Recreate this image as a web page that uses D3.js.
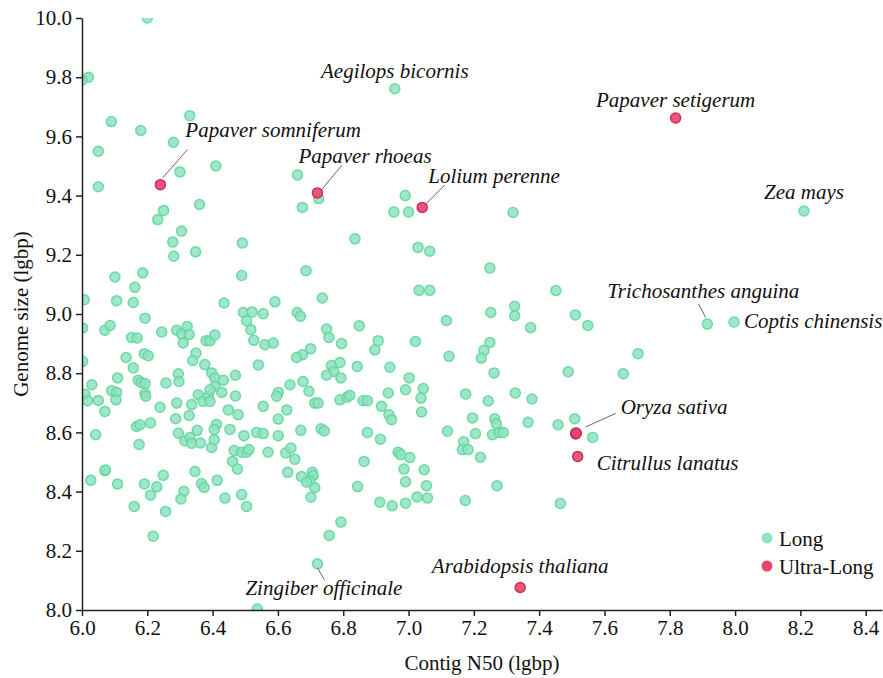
<!DOCTYPE html>
<html>
<head>
<meta charset="utf-8">
<script src="https://cdn.jsdelivr.net/npm/d3@7"></script>
<style>
  body { margin: 0; background: #fff; }
  svg text { font-family: "Times New Roman", "Liberation Serif", Tinos, "DejaVu Serif", "Noto Serif", Times, serif !important; }
</style>
</head>
<body>
<div id="chart"></div>
<script>
// axis ticks
const xTicks = [6.0, 6.2, 6.4, 6.6, 6.8, 7.0, 7.2, 7.4, 7.6, 7.8, 8.0, 8.2, 8.4];
const yTicks = [8.0, 8.2, 8.4, 8.6, 8.8, 9.0, 9.2, 9.4, 9.6, 9.8, 10.0];

// [contig N50, genome size] in lgbp
const longPoints = [
  [6.20,10.00],[6.02,9.80],[6.00,9.79],[6.33,9.67],[6.09,9.65],[6.18,9.62],[6.28,9.58],[6.05,9.55],
  [6.41,9.50],[6.30,9.48],[6.05,9.43],[6.36,9.37],[6.25,9.35],
  [6.958,9.761],[6.66,9.47],[6.725,9.39],[6.675,9.36],[6.955,9.345],[7.00,9.345],[6.99,9.40],[7.32,9.343],
  [6.232,9.319],[6.305,9.280],[6.278,9.243],[6.348,9.210],[6.281,9.195],[6.491,9.240],[6.101,9.125],
  [6.186,9.139],[6.162,9.090],[6.489,9.130],[6.007,9.048],[6.106,9.045],[6.157,9.039],[6.435,9.037],
  [6.494,9.005],[6.193,8.986],[6.002,8.953],[6.070,8.945],[6.086,8.961],[6.152,8.921],[6.169,8.919],
  [6.244,8.939],[6.290,8.945],[6.305,8.933],[6.322,8.958],[6.328,8.931],[6.310,8.902],[6.380,8.910],
  [6.392,8.910],[6.407,8.929],[6.002,8.840],[6.135,8.853],[6.191,8.866],[6.203,8.859],[6.157,8.818],
  [6.349,8.868],[6.339,8.843],[6.376,8.829],[6.470,8.793],[6.030,8.761],[6.109,8.784],[6.172,8.776],
  [6.181,8.769],[6.193,8.765],[6.257,8.767],[6.295,8.798],[6.297,8.772],[6.397,8.801],[6.407,8.784],
  [6.433,8.776],[6.407,8.756],[6.009,8.729],[6.017,8.707],[6.050,8.708],[6.091,8.741],[6.106,8.735],
  [6.104,8.710],[6.193,8.731],[6.195,8.722],[6.239,8.685],[6.290,8.699],[6.336,8.694],[6.356,8.727],
  [6.371,8.705],[6.387,8.722],[6.392,8.744],[6.392,8.705],[6.428,8.735],[6.448,8.676],[6.470,8.723],
  [6.070,8.671],
  [6.836,9.254],[6.686,9.146],[6.591,9.041],[6.736,9.054],[6.521,9.007],[6.555,9.001],[6.504,8.977],
  [6.659,9.005],[6.669,8.992],[6.517,8.947],[6.526,8.911],[6.560,8.896],[6.586,8.902],[6.749,8.949],
  [6.756,8.921],[6.849,8.960],[6.795,8.900],[6.907,8.910],[6.897,8.879],[6.700,8.883],[6.675,8.862],
  [6.657,8.853],[6.540,8.828],[6.764,8.826],[6.790,8.836],[6.771,8.806],[6.749,8.793],[6.793,8.784],
  [6.843,8.823],[6.943,8.820],[6.637,8.761],[6.677,8.772],[6.695,8.739],[6.601,8.735],[6.596,8.722],
  [6.555,8.688],[6.627,8.676],[6.713,8.699],[6.723,8.699],[6.790,8.710],[6.812,8.719],[6.820,8.725],
  [6.861,8.707],[6.874,8.707],[6.917,8.688],[6.938,8.733],[6.940,8.660],
  [7.029,9.225],[7.065,9.212],[7.249,9.155],[7.032,9.080],[7.065,9.080],[7.451,9.079],[7.116,8.978],
  [7.252,9.005],[7.325,9.026],[7.325,8.994],[7.374,8.954],[7.021,8.907],[7.249,8.904],[7.231,8.877],
  [7.223,8.851],[7.124,8.857],[7.262,8.801],[7.002,8.784],[6.991,8.744],[7.045,8.748],[7.038,8.716],
  [7.175,8.730],[7.244,8.706],[7.327,8.733],[7.378,8.713],[7.040,8.669],
  [6.042,8.592],[6.167,8.620],[6.178,8.626],[6.210,8.632],[6.175,8.559],[6.287,8.646],[6.328,8.657],
  [6.295,8.597],[6.315,8.572],[6.331,8.583],[6.336,8.563],[6.353,8.607],[6.363,8.564],[6.397,8.549],
  [6.405,8.575],[6.412,8.627],[6.405,8.610],[6.453,8.610],[6.466,8.539],[6.461,8.502],[6.476,8.476],
  [6.489,8.390],[6.070,8.471],[6.072,8.473],[6.027,8.438],[6.109,8.426],[6.191,8.426],[6.249,8.455],
  [6.229,8.416],[6.210,8.388],[6.160,8.350],[6.256,8.333],[6.218,8.249],[6.346,8.468],[6.312,8.401],
  [6.303,8.375],[6.366,8.427],[6.374,8.414],[6.414,8.438],[6.438,8.378],
  [6.478,8.660],[6.601,8.645],[6.496,8.589],[6.535,8.600],[6.555,8.596],[6.601,8.589],[6.670,8.607],
  [6.732,8.612],[6.742,8.605],[6.948,8.643],[6.874,8.600],[6.914,8.577],[6.489,8.533],[6.504,8.533],
  [6.511,8.542],[6.570,8.533],[6.624,8.531],[6.640,8.547],[6.652,8.509],[6.630,8.465],[6.672,8.451],
  [6.705,8.465],[6.708,8.454],[6.698,8.435],[6.688,8.432],[6.713,8.413],[6.701,8.381],[6.968,8.533],
  [6.864,8.502],[6.504,8.350],[6.844,8.417],[6.912,8.364],[6.950,8.352],[6.793,8.297],[6.757,8.252],
  [6.721,8.156],[6.537,8.003],
  [7.196,8.649],[7.264,8.646],[7.269,8.629],[7.257,8.592],[7.278,8.600],[7.290,8.600],[7.366,8.634],
  [7.458,8.626],[7.119,8.604],[7.205,8.596],[7.169,8.568],[7.165,8.542],[7.182,8.542],[7.220,8.516],
  [6.976,8.525],[7.004,8.515],[6.986,8.476],[7.048,8.474],[6.991,8.433],[7.055,8.420],[7.271,8.420],
  [6.991,8.361],[7.026,8.382],[7.058,8.378],[7.174,8.370],[7.465,8.360],
  [8.211,9.348],[7.511,8.997],[7.549,8.961],[7.915,8.966],[7.997,8.973],[7.703,8.866],[7.489,8.805],
  [7.658,8.798],[7.509,8.646],[7.564,8.583],[7.512,8.600]
];

const ultraLongPoints = [
  [6.240,9.437],[6.721,9.409],[7.042,9.360],[7.818,9.662],
  [7.512,8.595],[7.514,8.597],[7.518,8.519],[7.342,8.076]
];

// labelled species and the point they belong to
const speciesNames = ["Aegilops bicornis", "Papaver setigerum", "Papaver somniferum", "Papaver rhoeas",
  "Lolium perenne", "Zea mays", "Trichosanthes anguina", "Coptis chinensis", "Oryza sativa",
  "Citrullus lanatus", "Arabidopsis thaliana", "Zingiber officinale"];
const speciesX = [6.958, 7.818, 6.240, 6.721, 7.042, 8.211, 7.915, 7.997, 7.512, 7.518, 7.342, 6.721];
const speciesY = [9.761, 9.662, 9.437, 9.409, 9.360, 9.348, 8.966, 8.973, 8.595, 8.519, 8.076, 8.156];

const seriesNames = ["Long", "Ultra-Long"];

const SERIF = '"Times New Roman", "Liberation Serif", Tinos, "DejaVu Serif", serif';

function drawChart() {
  const W = 883, H = 678;
  const margin = { top: 18, right: 1, bottom: 68, left: 82 };
  const width = W - margin.left - margin.right;
  const height = H - margin.top - margin.bottom;

  const green = { fill: "#8fe3bd", stroke: "#62d6a1" };
  const red = { fill: "#e9446c", stroke: "#cf2d57" };

  const root = d3.select("#chart").append("svg")
    .attr("width", W)
    .attr("height", H)
    .attr("font-family", SERIF);

  const svg = root.append("g")
    .attr("transform", `translate(${margin.left},${margin.top})`);

  const x = d3.scaleLinear().domain([6, 8.45]).range([0, width]);
  const y = d3.scaleLinear().domain([8, 10]).range([height, 0]);

  root.append("defs").append("clipPath")
    .attr("id", "plot-clip")
    .append("rect")
    .attr("width", width)
    .attr("height", height);

  const pts = svg.append("g").attr("clip-path", "url(#plot-clip)");

  pts.selectAll("circle.long")
    .data(longPoints)
    .enter()
    .append("circle")
    .attr("class", "long")
    .attr("cx", d => x(d[0]))
    .attr("cy", d => y(d[1]))
    .attr("r", 5)
    .attr("fill", green.fill)
    .attr("fill-opacity", 0.85)
    .attr("stroke", green.stroke)
    .attr("stroke-width", 1.5)
    .attr("stroke-opacity", 0.9);

  pts.selectAll("circle.ultra")
    .data(ultraLongPoints)
    .enter()
    .append("circle")
    .attr("class", "ultra")
    .attr("cx", d => x(d[0]))
    .attr("cy", d => y(d[1]))
    .attr("r", 5)
    .attr("fill", red.fill)
    .attr("fill-opacity", 0.9)
    .attr("stroke", red.stroke)
    .attr("stroke-width", 1.5);

  // x axis
  const xAxis = svg.append("g")
    .attr("transform", `translate(0,${height})`)
    .call(d3.axisBottom(x).tickValues(xTicks).tickFormat(d3.format(".1f")).tickSizeOuter(0).tickPadding(4));

  // y axis
  const yAxis = svg.append("g")
    .call(d3.axisLeft(y).tickValues(yTicks).tickFormat(d3.format(".1f")).tickSizeOuter(0).tickPadding(4));

  [xAxis, yAxis].forEach(a => {
    a.attr("font-family", SERIF).attr("font-size", 21);
    a.select(".domain").attr("stroke", "#222").attr("stroke-width", 1.5);
    a.selectAll(".tick line").attr("stroke", "#222").attr("stroke-width", 1.5);
    a.selectAll("text").attr("fill", "#111");
  });

  // axis titles
  svg.append("text")
    .attr("x", width / 2)
    .attr("y", height + 60)
    .attr("text-anchor", "middle")
    .attr("font-size", 21)
    .attr("fill", "#111")
    .text("Contig N50 (lgbp)");

  svg.append("text")
    .attr("transform", `translate(${-54},${height / 2}) rotate(-90)`)
    .attr("text-anchor", "middle")
    .attr("font-size", 21)
    .attr("fill", "#111")
    .text("Genome size (lgbp)");

  // label placement: offset from point, anchor, optional leader line
  const layout = {
    "Aegilops bicornis":     { dx: 0,    dy: -11, anchor: "middle" },
    "Papaver setigerum":     { dx: 0,    dy: -11, anchor: "middle" },
    "Zea mays":              { dx: 0,    dy: -12, anchor: "middle" },
    "Papaver somniferum":    { dx: 25,   dy: -48, anchor: "start", line: [2.5, -7, 27, -35] },
    "Papaver rhoeas":        { dx: -19,  dy: -30, anchor: "start", line: [4, -3, 24.7, -28] },
    "Lolium perenne":        { dx: 6,    dy: -24, anchor: "start", line: [4, -4, 22.6, -22.4] },
    "Trichosanthes anguina": { dx: -100, dy: -26, anchor: "start", line: [-1.7, -6.5, -8.7, -20] },
    "Coptis chinensis":      { dx: 10,   dy: 6,   anchor: "start" },
    "Oryza sativa":          { dx: 45,   dy: -20, anchor: "start", line: [10, -7, 40, -20.5] },
    "Citrullus lanatus":     { dx: 19,   dy: 14,  anchor: "start" },
    "Arabidopsis thaliana":  { dx: 0,    dy: -15, anchor: "middle" },
    "Zingiber officinale":   { dx: -72,  dy: 31,  anchor: "start", line: [0, 4, 7, 16] }
  };

  const labels = speciesNames.map((name, i) => ({ name, px: x(speciesX[i]), py: y(speciesY[i]), ...layout[name] }));

  svg.selectAll("line.leader")
    .data(labels.filter(d => d.line))
    .enter()
    .append("line")
    .attr("class", "leader")
    .attr("x1", d => d.px + d.line[0])
    .attr("y1", d => d.py + d.line[1])
    .attr("x2", d => d.px + d.line[2])
    .attr("y2", d => d.py + d.line[3])
    .attr("stroke", "#666")
    .attr("stroke-width", 1);

  svg.selectAll("text.species")
    .data(labels)
    .enter()
    .append("text")
    .attr("class", "species")
    .attr("x", d => d.px + d.dx)
    .attr("y", d => d.py + d.dy)
    .attr("text-anchor", d => d.anchor)
    .attr("font-style", "italic")
    .attr("font-size", 21)
    .attr("fill", "#111")
    .text(d => d.name);

  // legend
  const legend = svg.append("g")
    .attr("transform", `translate(${685},${520})`);

  legend.selectAll("circle")
    .data(seriesNames)
    .enter()
    .append("circle")
    .attr("cx", 0)
    .attr("cy", (d, i) => i * 28)
    .attr("r", 5.5)
    .attr("fill", (d, i) => i === 0 ? green.fill : red.fill);

  legend.selectAll("text")
    .data(seriesNames)
    .enter()
    .append("text")
    .attr("x", 12)
    .attr("y", (d, i) => i * 28 + 7.5)
    .attr("font-size", 21)
    .attr("fill", "#111")
    .text(d => d);
}

drawChart();
</script>
</body>
</html>
